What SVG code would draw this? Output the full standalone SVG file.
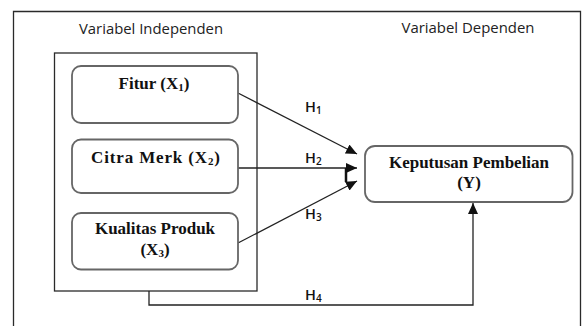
<svg xmlns="http://www.w3.org/2000/svg" width="582" height="326" viewBox="0 0 582 326">
<style>
.frame{fill:none;stroke:#2a2a2a;stroke-width:1.3}
.node{fill:#fff;stroke:#666;stroke-width:1.8}
.lbl{font-family:"Liberation Serif","Times New Roman",serif;font-weight:bold;font-size:17px;fill:#111;text-anchor:middle}
.sub{font-size:11px}
.hdr{font-family:"Open Sans","Noto Sans",sans-serif;font-size:14px;fill:#222}
.h{font-family:"Open Sans","Noto Sans",sans-serif;font-size:14.5px;font-weight:600;fill:#111}
.hs{font-size:10px}
.conn{fill:none;stroke:#222;stroke-width:1.3}
</style>
<defs>
<marker id="arr" markerUnits="userSpaceOnUse" markerWidth="12" markerHeight="10" refX="11" refY="5" orient="auto">
<path d="M0,0 L11,5 L0,10 z" fill="#111"/>
</marker>
</defs>
<rect width="582" height="326" fill="#fff"/>
<path class="frame" d="M13.5,326 V11.5 H580.5 V326"/>
<text class="hdr" x="79" y="34" textLength="144" lengthAdjust="spacingAndGlyphs">Variabel Independen</text>
<text class="hdr" x="401.5" y="33" textLength="133" lengthAdjust="spacingAndGlyphs">Variabel Dependen</text>
<rect class="frame" x="54.5" y="53" width="202.5" height="238" stroke="#222"/>
<g id="connectors">
<line class="conn" x1="238" y1="93" x2="357" y2="154" marker-end="url(#arr)"/>
<line class="conn" x1="238" y1="168" x2="357" y2="168" marker-end="url(#arr)"/>
<line class="conn" x1="238" y1="243" x2="357" y2="181" marker-end="url(#arr)"/>
<line x1="346" y1="168" x2="346" y2="182" stroke="#111" stroke-width="2.5"/>
<path class="conn" d="M149,291 V305 H473 V203" marker-end="url(#arr)"/>
<text class="h" x="305" y="112">H<tspan class="hs" dy="2">1</tspan></text>
<text class="h" x="305" y="163">H<tspan class="hs" dy="2">2</tspan></text>
<text class="h" x="305" y="219">H<tspan class="hs" dy="2">3</tspan></text>
<text class="h" x="305" y="300">H<tspan class="hs" dy="2">4</tspan></text>
</g>
<g id="fitur">
<rect class="node" x="72" y="66" width="166" height="57" rx="9"/>
<text class="lbl" x="154" y="89">Fitur (X<tspan class="sub" dy="2">1</tspan><tspan dy="-2">)</tspan></text>
</g>
<g id="citra">
<rect class="node" x="72" y="139.5" width="166" height="53.5" rx="9"/>
<text class="lbl" x="155.5" y="162.5" textLength="129" lengthAdjust="spacing">Citra Merk (X<tspan class="sub" dy="2">2</tspan><tspan dy="-2">)</tspan></text>
</g>
<g id="kualitas">
<rect class="node" x="72" y="213" width="166" height="56.5" rx="9"/>
<text class="lbl" x="155" y="234">Kualitas Produk</text>
<text class="lbl" x="155" y="255">(X<tspan class="sub" dy="2">3</tspan><tspan dy="-2">)</tspan></text>
</g>
<g id="keputusan">
<rect class="node" x="365" y="146" width="207.5" height="56" rx="10"/>
<text class="lbl" x="469" y="167.5">Keputusan Pembelian</text>
<text class="lbl" x="469" y="188">(Y)</text>
</g>
</svg>
